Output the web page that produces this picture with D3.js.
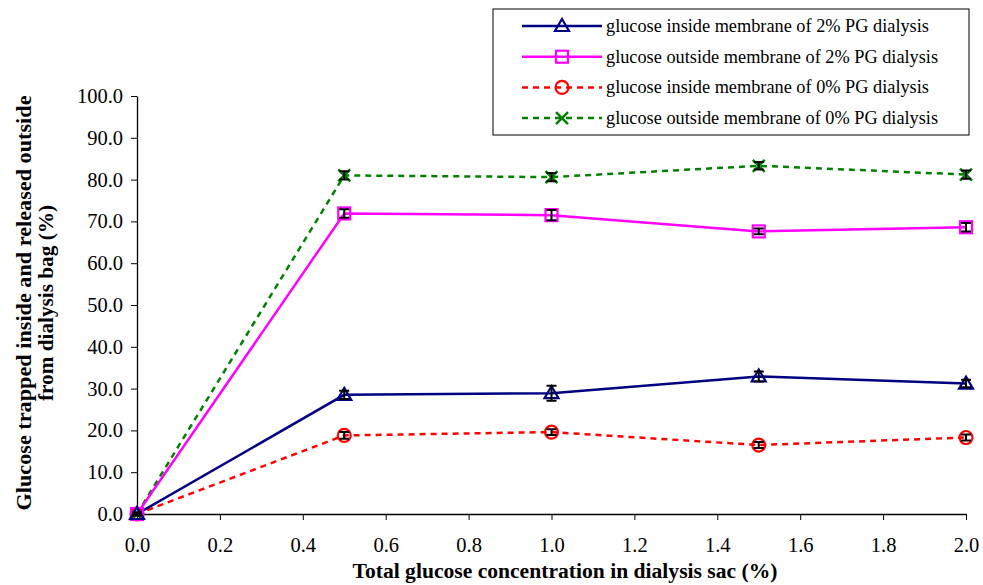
<!DOCTYPE html>
<html>
<head>
<meta charset="utf-8">
<script src="https://cdn.jsdelivr.net/npm/d3@7"></script>
<style>
  body { margin: 0; background: #fff; }
  svg text { font-family: "Liberation Serif", "Times New Roman", serif; }
</style>
</head>
<body>
<div id="container"><svg width="983" height="585"><g></g></svg></div>
<script>
// data
const concentrations = [0.0, 0.5, 1.0, 1.5, 2.0];

const inside2 = [0.0, 28.5, 28.9, 32.9, 31.2];
const inside2Err = [0.3, 1.0, 1.8, 1.2, 0.9];

const outside2 = [0.0, 71.9, 71.5, 67.6, 68.6];
const outside2Err = [0.3, 1.0, 1.2, 0.7, 1.0];

const inside0 = [0.0, 18.8, 19.6, 16.5, 18.3];
const inside0Err = [0.3, 0.8, 0.7, 0.7, 0.7];

const outside0 = [0.0, 81.0, 80.6, 83.3, 81.2];
const outside0Err = [0.3, 1.0, 1.0, 0.9, 1.0];

const seriesNames = [
  "glucose inside membrane of 2% PG dialysis",
  "glucose outside membrane of 2% PG dialysis",
  "glucose inside membrane of 0% PG dialysis",
  "glucose outside membrane of 0% PG dialysis"
];

const xTicks = [0, 0.2, 0.4, 0.6, 0.8, 1.0, 1.2, 1.4, 1.6, 1.8, 2.0];
const yTicks = [0, 10, 20, 30, 40, 50, 60, 70, 80, 90, 100];

const FONT = "'Liberation Serif', 'Times New Roman', serif";

// series drawing order: green first so solid lines sit on top like the original
const series = [
  {name: seriesNames[3], values: outside0, err: outside0Err, color: "#008000", dash: "6,5", marker: "x"},
  {name: seriesNames[2], values: inside0, err: inside0Err, color: "#ff0000", dash: "6,5", marker: "circle"},
  {name: seriesNames[1], values: outside2, err: outside2Err, color: "#ff00ff", dash: null, marker: "square"},
  {name: seriesNames[0], values: inside2, err: inside2Err, color: "#000080", dash: null, marker: "triangle"}
];

const svg = d3.select("svg");
const inner = svg.select("g");

const x = d3.scaleLinear().domain([0, 2]).range([137, 966]);
const y = d3.scaleLinear().domain([0, 100]).range([514, 96]);

// axes
const xAxis = d3.axisBottom(x).tickValues(xTicks).tickFormat(d3.format(".1f")).tickSize(6).tickSizeOuter(0);
const yAxis = d3.axisLeft(y).tickValues(yTicks).tickFormat(d3.format(".1f")).tickSize(6).tickSizeOuter(0);

const gx = inner.append("g").attr("transform", `translate(0,${y(0)})`).call(xAxis)
  .attr("font-family", FONT);
gx.select(".domain").attr("stroke", "#000").attr("stroke-width", 1.3);
gx.selectAll(".tick line").attr("stroke", "#000");
gx.selectAll(".tick text")
  .style("font-family", FONT)
  .attr("font-size", 20.5).attr("fill", "#000").attr("y", 23).attr("dy", "0.71em");

const gy = inner.append("g").attr("transform", `translate(${x(0)},0)`).call(yAxis)
  .attr("font-family", FONT);
gy.select(".domain").attr("stroke", "#000").attr("stroke-width", 1.3);
gy.selectAll(".tick line").attr("stroke", "#000");
gy.selectAll(".tick text")
  .style("font-family", FONT)
  .attr("font-size", 20.5).attr("fill", "#000").attr("x", -14);

// axis titles (the original is a bit stretched sideways, so fit the lengths)
inner.append("text")
  .attr("x", 565).attr("y", 578)
  .attr("text-anchor", "middle")
  .attr("font-family", FONT)
  .attr("font-size", 20).attr("font-weight", "bold")
  .attr("textLength", 425).attr("lengthAdjust", "spacingAndGlyphs")
  .text("Total glucose concentration in dialysis sac (%)");

const yTitle = inner.append("g").attr("transform", "translate(31,303) rotate(-90)");
yTitle.append("text")
  .attr("x", 0).attr("y", 0)
  .attr("text-anchor", "middle")
  .attr("font-family", FONT)
  .attr("font-size", 20).attr("font-weight", "bold")
  .attr("textLength", 415).attr("lengthAdjust", "spacingAndGlyphs")
  .text("Glucose trapped inside and released outside");
yTitle.append("text")
  .attr("x", 0).attr("y", 22)
  .attr("text-anchor", "middle")
  .attr("font-family", FONT)
  .attr("font-size", 20).attr("font-weight", "bold")
  .attr("textLength", 196).attr("lengthAdjust", "spacingAndGlyphs")
  .text("from dialysis bag (%)");

// marker drawer
function drawMarker(g, type, color) {
  if (type === "triangle") {
    g.append("path").attr("d", "M0,-7L7,5L-7,5Z")
      .attr("fill", "none").attr("stroke", color).attr("stroke-width", 2.2);
  } else if (type === "square") {
    g.append("rect").attr("x", -6).attr("y", -6).attr("width", 12).attr("height", 12)
      .attr("fill", "none").attr("stroke", color).attr("stroke-width", 2.2);
  } else if (type === "circle") {
    g.append("circle").attr("r", 6.5)
      .attr("fill", "none").attr("stroke", color).attr("stroke-width", 2.2);
  } else if (type === "x") {
    g.append("path").attr("d", "M-6,-6L6,6M-6,6L6,-6")
      .attr("fill", "none").attr("stroke", color).attr("stroke-width", 2.5);
  }
}

const line = d3.line().x((d, i) => x(concentrations[i])).y(d => y(d));

// lines
series.forEach(s => {
  inner.append("path")
    .datum(s.values)
    .attr("d", line)
    .attr("fill", "none")
    .attr("stroke", s.color)
    .attr("stroke-width", 2.5)
    .attr("stroke-dasharray", s.dash);
});

// markers + error bars
series.forEach(s => {
  s.values.forEach((v, i) => {
    const g = inner.append("g").attr("transform", `translate(${x(concentrations[i])},${y(v)})`);
    drawMarker(g, s.marker, s.color);
    const e = s.err[i];
    const top = y(v + e) - y(v), bot = y(v - e) - y(v);
    g.append("path")
      .attr("d", `M0,${top}L0,${bot}M-5,${top}L5,${top}M-5,${bot}L5,${bot}`)
      .attr("stroke", "#000").attr("stroke-width", 2).attr("fill", "none");
  });
});

// legend
const legend = inner.append("g");
legend.append("rect")
  .attr("x", 493).attr("y", 9).attr("width", 476).attr("height", 126)
  .attr("fill", "#fff").attr("stroke", "#000").attr("stroke-width", 1);

const legendOrder = [series[3], series[2], series[1], series[0]];
legendOrder.forEach((s, i) => {
  const ly = 26 + i * 30.7;
  const row = legend.append("g");
  row.append("line")
    .attr("x1", 522).attr("x2", 602).attr("y1", ly).attr("y2", ly)
    .attr("stroke", s.color).attr("stroke-width", 2.5)
    .attr("stroke-dasharray", s.dash);
  drawMarker(row.append("g").attr("transform", `translate(562,${ly})`), s.marker, s.color);
  row.append("text")
    .attr("x", 606).attr("y", ly + 6)
    .attr("font-family", FONT)
    .attr("font-size", 18.3).attr("fill", "#000")
    .text(s.name);
});
</script>
</body>
</html>
